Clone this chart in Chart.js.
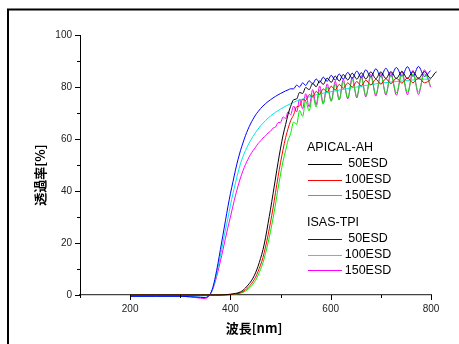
<!DOCTYPE html>
<html>
<head>
<meta charset="utf-8">
<script src="https://cdn.jsdelivr.net/npm/chart.js@4/dist/chart.umd.min.js"></script>
<style>
  html, body { margin: 0; padding: 0; background: #ffffff; }
  #c { display: block; }
</style>
</head>
<body>
<canvas id="c" width="459" height="344"></canvas>
<script>
// ---------- data ----------
const wavelength = [200, 250, 300, 340, 350, 355, 360, 365, 370, 375, 380, 385, 390, 395, 400, 405, 410, 415, 420, 425, 430, 435, 440, 445, 450, 455, 460, 465, 470, 475, 480, 485, 490, 495, 500, 505, 510, 515, 520, 526, 532, 538, 544, 550, 557, 564, 571, 578, 585, 593, 601, 609, 617, 625, 634, 643, 652, 661, 670, 680, 690, 700, 710, 720, 731, 742, 753, 764, 775, 787, 799, 811, 820];

const apical50 = [0, 0, 0, 0, 0, 0, 0, 0, 0, 0, 0, 0.05, 0.1, 0.2, 0.3, 0.45, 0.6, 0.8, 1.2, 1.8, 2.7, 3.8, 5, 6.5, 8.5, 11, 14, 17.5, 22, 27.5, 33, 39, 45, 51, 56.5, 61.5, 65.5, 69.5, 72.5,
  75.1, 75.4, 77.9, 77.5, 79.8, 79.0, 81.4, 80.1, 82.4, 81.0, 83.4, 81.8, 84.2, 82.3, 84.8, 82.7, 85.3, 83.0, 85.5, 83.1, 85.8, 83.2, 85.8, 83.3, 85.9, 83.3, 85.9, 83.3, 85.9, 83.3, 85.9, 83.4, 85.8, 84.4];
const apical100 = [0, 0, 0, 0, 0, 0, 0, 0, 0, 0, 0, 0.03, 0.05, 0.1, 0.2, 0.3, 0.4, 0.6, 0.9, 1.3, 2, 2.8, 3.9, 5.2, 6.8, 9, 11.5, 14.5, 18.5, 23, 28, 33.5, 39.5, 45.5, 51, 56, 60.5, 64, 67,
  69.3, 72.4, 72.7, 75.2, 74.8, 77.1, 76.2, 78.3, 77.2, 79.3, 78.1, 80.3, 78.9, 81.0, 79.5, 81.6, 80.0, 82.1, 80.4, 82.6, 80.8, 83.0, 81.1, 83.2, 81.3, 83.4, 81.5, 83.5, 81.6, 83.6, 81.6, 82.8, null, null];
const apical150 = [0, 0, 0, 0, 0, 0, 0, 0, 0, 0, 0, 0.02, 0.03, 0.05, 0.1, 0.2, 0.3, 0.5, 0.7, 1, 1.5, 2.2, 3.1, 4.2, 5.6, 7.5, 9.8, 12.5, 16, 20, 24.5, 29.5, 35, 41, 46.5, 51.5, 55.5, 59.5, 62,
  66.5, 65.6, 71.0, 68.7, 74.6, 70.8, 77.0, 72.3, 78.8, 73.4, 80.1, 74.5, 81.1, 75.1, 82.0, 75.8, 82.8, 76.4, 83.5, 76.8, 84.0, 77.2, 84.4, 77.5, 84.6, 77.7, 84.8, 77.9, 85.0, 78.0, 85.1, 80.5, null, null];

const isas50 = [-0.5, -0.5, -0.5, -0.9, -1.0, -0.6, 0.5, 3, 7, 12, 17.5, 23, 28.5, 34, 39, 43.5, 48, 52, 55.5, 58.5, 61.3, 63.7, 65.8, 67.6, 69.2, 70.5, 71.7, 72.7, 73.6, 74.4, 75.1, 75.8, 76.4, 77, 77.5, 78, 78.5, 78.9, 79.3,
  79.3, 80.7, 80.0, 81.6, 80.6, 82.4, 81.2, 83.1, 81.7, 83.8, 82.2, 84.5, 82.6, 85.0, 83.0, 85.6, 83.3, 86.1, 83.6, 86.6, 83.8, 87.0, 84.0, 87.2, 84.2, 87.5, 84.2, 87.8, 84.1, 87.9, 84.1, 86.3, null, null];
const isas100 = [-0.5, -0.5, -0.5, -0.8, -0.9, -0.5, 0.5, 2.5, 6, 10.5, 15, 20, 25, 29.5, 34.5, 39, 43, 47, 50.5, 53.2, 55.6, 57.6, 59.4, 61, 62.5, 63.8, 65, 66.1, 67.1, 68, 68.8, 69.6, 70.3, 70.9, 71.5, 72.1, 72.6, 73.1, 73.6,
  74.1, 74.6, 75.0, 75.4, 75.8, 76.2, 76.6, 77.0, 77.3, 77.6, 77.9, 78.2, 78.5, 78.8, 79.1, 79.4, 79.7, 80.0, 80.3, 80.6, 80.9, 81.2, 81.5, 81.7, 81.9, 82.1, 82.3, 82.5, 82.7, 82.9, 83.0, 83.1, null, null];
const isas150 = [-0.5, -0.5, -0.5, -1.2, -1.4, -0.8, 0.3, 2.3, 5.3, 9, 13, 17.3, 21.7, 26, 30, 34.2, 38.2, 41.8, 45, 47.8, 50.2, 52.2, 54, 55.5, 56.8, 58.2, 59.2, 60.4, 61.2, 62.3, 63, 64.2, 64.6, 66.3, 66.4, 68.5, 67.9, 70.5, 69.3,
  72.7, 70.4, 75.4, 71.6, 77.4, 72.4, 79.0, 73.2, 80.4, 73.7, 81.2, 74.6, 82.2, 75.0, 82.9, 75.4, 83.8, 75.8, 84.4, 76.2, 84.9, 76.5, 85.3, 76.9, 85.6, 76.8, 86.2, 77.0, 86.4, 77.1, 86.6, 80.0, null, null];

const groupTitles = ['APICAL-AH', 'ISAS-TPI'];
const seriesLabels = ['50ESD', '100ESD', '150ESD'];
const xMajorTicks = [200, 400, 600, 800];
const xMinorTicks = [100, 300, 500, 700];
const yMajorTicks = [0, 20, 40, 60, 80, 100];
const yMinorTicks = [10, 30, 50, 70, 90];
const xTitle = '波長[nm]';
const yTitle = '透過率[%]';

// ---------- styling ----------
const groupColors = [['#000000', '#ff0000', '#00ee00'], ['#0000ff', '#00e8e8', '#ff00ff']];
const groupSeries = [[apical50, apical100, apical150], [isas50, isas100, isas150]];

const datasets = [];
groupSeries.forEach((grp, g) => {
  grp.forEach((vals, s) => {
    datasets.push({
      label: groupTitles[g] + ' ' + seriesLabels[s],
      data: wavelength.map((w, i) => ({ x: w, y: vals[i] })),
      borderColor: groupColors[g][s],
      borderWidth: 1,
      pointRadius: 0,
      fill: false,
      cubicInterpolationMode: 'monotone',
      spanGaps: false,
      clip: false
    });
  });
});

const tickFont = { family: "'Liberation Sans', Arial, sans-serif", size: 10 };

const decor = {
  id: 'decor',
  beforeDraw(chart) {
    const ctx = chart.ctx;
    ctx.save();
    ctx.fillStyle = '#ffffff';
    ctx.fillRect(0, 0, chart.width, chart.height);
    ctx.strokeStyle = '#000000';
    ctx.lineWidth = 2;
    ctx.beginPath();
    ctx.moveTo(8, 344);
    ctx.lineTo(8, 9.5);
    ctx.lineTo(459, 9.5);
    ctx.stroke();
    ctx.restore();
  },
  afterDraw(chart) {
    const ctx = chart.ctx;
    const xs = chart.scales.x, ys = chart.scales.y;
    const axX = xs.left, axY = ys.bottom;
    ctx.save();
    // tick marks
    ctx.lineWidth = 1;
    ctx.strokeStyle = '#000000';
    ctx.beginPath();
    yMajorTicks.forEach(v => { const p = Math.round(ys.getPixelForValue(v)) + 0.5; ctx.moveTo(axX - 5, p); ctx.lineTo(axX, p); });
    yMinorTicks.forEach(v => { const p = Math.round(ys.getPixelForValue(v)) + 0.5; ctx.moveTo(axX - 3, p); ctx.lineTo(axX, p); });
    xMajorTicks.forEach(v => { const p = Math.round(xs.getPixelForValue(v)) + 0.5; ctx.moveTo(p, axY); ctx.lineTo(p, axY + 5); });
    xMinorTicks.forEach(v => { const p = Math.round(xs.getPixelForValue(v)) + 0.5; ctx.moveTo(p, axY); ctx.lineTo(p, axY + 3); });
    ctx.stroke();

    // axis titles
    ctx.fillStyle = '#000000';
    ctx.font = "bold 13px 'Noto Sans CJK JP', sans-serif";
    ctx.textAlign = 'center';
    ctx.textBaseline = 'middle';
    ctx.fillText(xTitle, 254, 328);
    ctx.save();
    ctx.translate(40.5, 175);
    ctx.rotate(-Math.PI / 2);
    ctx.fillText(yTitle, 0, 0);
    ctx.restore();

    // legend
    ctx.font = "12.5px 'Liberation Sans', Arial, sans-serif";
    const groupY = [148, 223];
    const rowStep = [16, 15.5];
    groupTitles.forEach((t, g) => {
      ctx.textAlign = 'left';
      ctx.fillStyle = '#000000';
      ctx.fillText(t, 307, groupY[g]);
      seriesLabels.forEach((lab, s) => {
        const y = groupY[g] + 16 + s * 15.7;
        ctx.strokeStyle = groupColors[g][s];
        ctx.beginPath();
        ctx.moveTo(308, Math.round(y) + 0.5);
        ctx.lineTo(342, Math.round(y) + 0.5);
        ctx.stroke();
        ctx.textAlign = 'center';
        ctx.fillStyle = '#000000';
        ctx.fillText(lab, 368, y);
      });
    });
    ctx.restore();
  }
};

new Chart(document.getElementById('c'), {
  type: 'line',
  data: { datasets },
  options: {
    responsive: false,
    animation: false,
    devicePixelRatio: 1,
    layout: { padding: { left: 0, top: 35, right: 28, bottom: 0 } },
    plugins: { legend: { display: false }, tooltip: { enabled: false }, title: { display: false } },
    scales: {
      x: {
        type: 'linear',
        min: 100,
        max: 800,
        grid: { display: false, drawTicks: false },
        border: { display: true, color: '#444444', width: 1.2 },
        ticks: {
          stepSize: 100,
          autoSkip: false,
          maxRotation: 0,
          padding: 8,
          font: tickFont,
          color: '#222222',
          callback: v => (xMajorTicks.includes(v) ? String(v) : '')
        },
        afterFit: s => { s.height = 49; }
      },
      y: {
        type: 'linear',
        min: 0,
        max: 100,
        grid: { display: false, drawTicks: false },
        border: { display: true, color: '#000000', width: 1 },
        ticks: {
          stepSize: 10,
          autoSkip: false,
          padding: 8,
          font: tickFont,
          color: '#222222',
          callback: v => (yMajorTicks.includes(v) ? String(v) : '')
        },
        afterFit: s => { s.width = 80; }
      }
    }
  },
  plugins: [decor]
});
</script>
</body>
</html>
